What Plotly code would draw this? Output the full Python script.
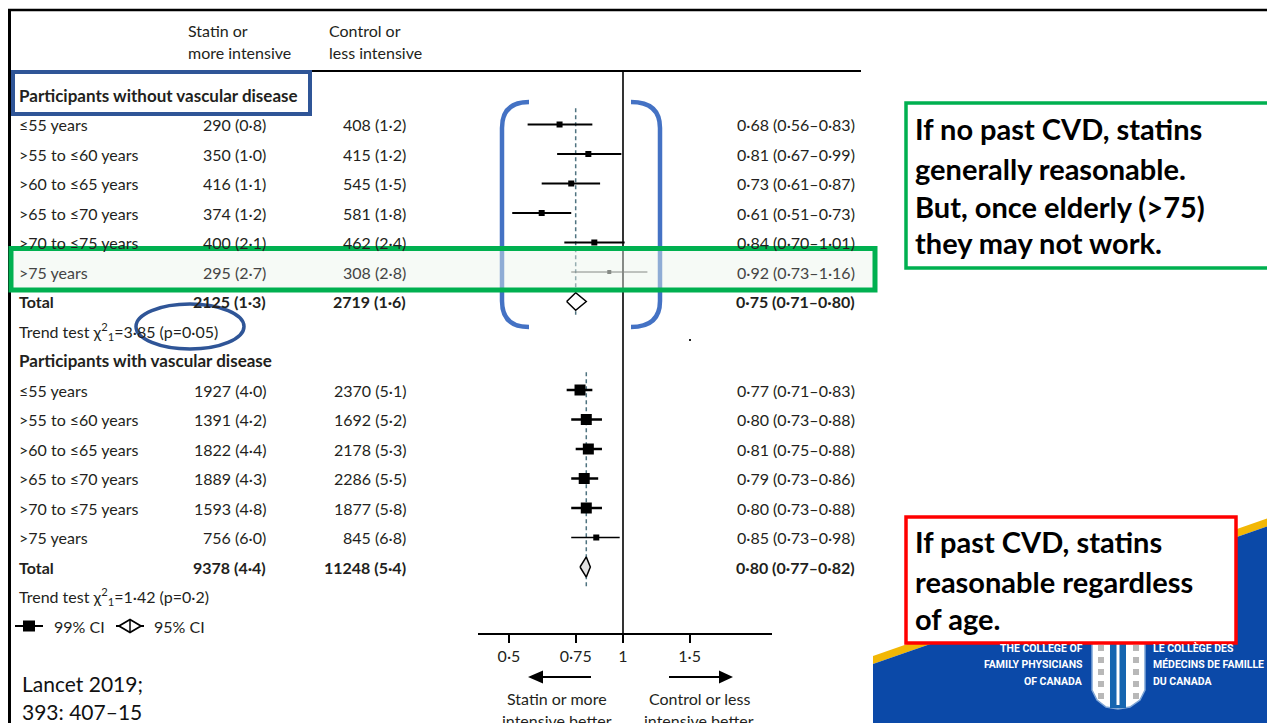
import plotly.graph_objects as go

# page body has an 8px default margin: design in page pixels, draw with an offset
OFF = 8
W, H = 1275, 723

# ---------------- data ----------------
age_groups = ["≤55 years", ">55 to ≤60 years", ">60 to ≤65 years",
              ">65 to ≤70 years", ">70 to ≤75 years", ">75 years"]

# Participants without vascular disease
statin_novd = ["290 (0·8)", "350 (1·0)", "416 (1·1)", "374 (1·2)", "400 (2·1)", "295 (2·7)"]
control_novd = ["408 (1·2)", "415 (1·2)", "545 (1·5)", "581 (1·8)", "462 (2·4)", "308 (2·8)"]
rr_novd = [0.68, 0.81, 0.73, 0.61, 0.84, 0.92]
lo_novd = [0.56, 0.67, 0.61, 0.51, 0.70, 0.73]
hi_novd = [0.83, 0.99, 0.87, 0.73, 1.01, 1.16]
total_novd_counts = ["2125 (1·3)", "2719 (1·6)"]
total_novd_rr = [0.75, 0.71, 0.80]
trend_novd = "Trend test χ<sup>2</sup><sub>1</sub>=3·85 (p=0·05)"

# Participants with vascular disease
statin_vd = ["1927 (4·0)", "1391 (4·2)", "1822 (4·4)", "1889 (4·3)", "1593 (4·8)", "756 (6·0)"]
control_vd = ["2370 (5·1)", "1692 (5·2)", "2178 (5·3)", "2286 (5·5)", "1877 (5·8)", "845 (6·8)"]
rr_vd = [0.77, 0.80, 0.81, 0.79, 0.80, 0.85]
lo_vd = [0.71, 0.73, 0.75, 0.73, 0.73, 0.73]
hi_vd = [0.83, 0.88, 0.88, 0.86, 0.88, 0.98]
total_vd_counts = ["9378 (4·4)", "11248 (5·4)"]
total_vd_rr = [0.80, 0.77, 0.82]
trend_vd = "Trend test χ<sup>2</sup><sub>1</sub>=1·42 (p=0·2)"

tick_vals = [0.5, 0.75, 1, 1.5]
tick_text = ["0·5", "0·75", "1", "1·5"]

# ---------------- layout helpers ----------------
FONT = "Lato"
TXT = "#231f20"
FS = 16
ROW0 = 95.0      # page pixel y of row index 0
ROWH = 29.5      # pixel height of a row
AX_Y = 633.0     # page pixel y of x-axis line


def fx(x):
    return (x - OFF) / W


def fy(y):
    return 1 - (y - OFF) / H


def row_of(ypix):
    return (ypix - ROW0) / ROWH


def fmt(v):
    return f"{v:.2f}".replace(".", "·")


def ci_text(r, l, h):
    return f"{fmt(r)} ({fmt(l)}–{fmt(h)})"


annotations = []
shapes = []


def txt(x, row, s, anchor="left", size=FS, bold=False, color=TXT, font=FONT):
    if bold:
        s = f"<b>{s}</b>"
    annotations.append(dict(x=fx(x), y=row, xref="paper", yref="y", text=s,
                            xanchor=anchor, yanchor="middle", showarrow=False,
                            font=dict(family=font, size=size, color=color)))


def ptxt(x, y, s, anchor="left", size=FS, bold=False, color=TXT, font=FONT):
    if bold:
        s = f"<b>{s}</b>"
    annotations.append(dict(x=fx(x), y=fy(y), xref="paper", yref="paper", text=s,
                            xanchor=anchor, yanchor="middle", showarrow=False,
                            font=dict(family=font, size=size, color=color)))


def pline(x0, y0, x1, y1, color="black", width=2, dash="solid"):
    shapes.append(dict(type="line", xref="paper", yref="paper",
                       x0=fx(x0), y0=fy(y0), x1=fx(x1), y1=fy(y1),
                       line=dict(color=color, width=width, dash=dash)))


def ppath(points, color="black", width=0, fill=None):
    d = "M " + " L ".join(f"{fx(x):.5f},{fy(y):.5f}" for x, y in points) + " Z"
    shapes.append(dict(type="path", xref="paper", yref="paper", path=d,
                       fillcolor=fill if fill else "rgba(0,0,0,0)",
                       line=dict(color=color, width=width)))


def prect(x0, y0, x1, y1, color, width, fill="rgba(0,0,0,0)", layer="above"):
    shapes.append(dict(type="rect", xref="paper", yref="paper",
                       x0=fx(x0), y0=fy(y0), x1=fx(x1), y1=fy(y1),
                       line=dict(color=color, width=width), fillcolor=fill, layer=layer))


# ---------------- figure & traces ----------------
fig = go.Figure()

rows_novd = list(range(1, 7))
rows_vd = list(range(10, 16))
row_total_novd, row_trend_novd, row_head_vd = 7, 8, 9
row_total_vd, row_trend_vd, row_legend = 16, 17, 18


def ci_trace(est, lo, hi, rows, msize, thick, color="black"):
    fig.add_trace(go.Scatter(
        x=est, y=rows, mode="markers",
        marker=dict(symbol="square", size=msize, color=color, line=dict(width=0)),
        error_x=dict(type="data", symmetric=False,
                     array=[h - e for e, h in zip(est, hi)],
                     arrayminus=[e - l for e, l in zip(est, lo)],
                     width=0, thickness=thick, color=color),
        showlegend=False, hoverinfo="skip"))


# reference line at 1
fig.add_trace(go.Scatter(x=[1, 1], y=[row_of(71), row_of(AX_Y)], mode="lines",
                         line=dict(color="black", width=1.6), showlegend=False,
                         hoverinfo="skip"))

# dashed overall lines
fig.add_trace(go.Scatter(x=[total_novd_rr[0]] * 2, y=[0.45, 7.45], mode="lines",
                         line=dict(color="#4f7380", width=1.5, dash="4px,3px"),
                         showlegend=False, hoverinfo="skip"))
fig.add_trace(go.Scatter(x=[total_vd_rr[0]] * 2, y=[9.4, 16.7], mode="lines",
                         line=dict(color="#4f7380", width=1.5, dash="4px,3px"),
                         showlegend=False, hoverinfo="skip"))

# CI bars
ci_trace(rr_novd[:5], lo_novd[:5], hi_novd[:5], rows_novd[:5], 6, 2)
ci_trace(rr_novd[5:], lo_novd[5:], hi_novd[5:], rows_novd[5:], 4, 1, "#333333")
ci_trace(rr_vd[:5], lo_vd[:5], hi_vd[:5], rows_vd[:5], 11, 2.5)
ci_trace(rr_vd[5:], lo_vd[5:], hi_vd[5:], rows_vd[5:], 6, 1.5)


def diamond(tot, row, half, fill):
    e, l, h = tot
    fig.add_trace(go.Scatter(x=[l, e, h, e, l], y=[row, row - half, row, row + half, row],
                             mode="lines", fill="toself", fillcolor=fill,
                             line=dict(color="black", width=1.5),
                             showlegend=False, hoverinfo="skip"))


diamond(total_novd_rr, row_total_novd, 0.3, "white")
diamond(total_vd_rr, row_total_vd, 0.34, "#e2e2e2")

# ---------------- table text ----------------
X_LAB, X_STAT, X_CTRL, X_RR = 17, 268, 408, 857

ptxt(186, 30, "Statin or")
ptxt(186, 52, "more intensive")
ptxt(327, 30, "Control or")
ptxt(327, 52, "less intensive")

txt(X_LAB, 0, "Participants without vascular disease", bold=True, size=17)
for i, r in enumerate(rows_novd):
    col = "#444444" if i == 5 else TXT
    txt(X_LAB, r, age_groups[i], color=col)
    txt(X_STAT, r, statin_novd[i], anchor="right", color=col)
    txt(X_CTRL, r, control_novd[i], anchor="right", color=col)
    txt(X_RR, r, ci_text(rr_novd[i], lo_novd[i], hi_novd[i]), anchor="right", color=col)
txt(X_LAB, row_total_novd, "Total", bold=True)
txt(X_STAT, row_total_novd, total_novd_counts[0], anchor="right", bold=True)
txt(X_CTRL, row_total_novd, total_novd_counts[1], anchor="right", bold=True)
txt(X_RR, row_total_novd, ci_text(*total_novd_rr), anchor="right", bold=True)
txt(X_LAB, row_trend_novd, trend_novd)

txt(X_LAB, row_head_vd, "Participants with vascular disease", bold=True, size=17)
for i, r in enumerate(rows_vd):
    txt(X_LAB, r, age_groups[i])
    txt(X_STAT, r, statin_vd[i], anchor="right")
    txt(X_CTRL, r, control_vd[i], anchor="right")
    txt(X_RR, r, ci_text(rr_vd[i], lo_vd[i], hi_vd[i]), anchor="right")
txt(X_LAB, row_total_vd, "Total", bold=True)
txt(X_STAT, row_total_vd, total_vd_counts[0], anchor="right", bold=True)
txt(X_CTRL, row_total_vd, total_vd_counts[1], anchor="right", bold=True)
txt(X_RR, row_total_vd, ci_text(*total_vd_rr), anchor="right", bold=True)
txt(X_LAB, row_trend_vd, trend_vd)

# legend row
ly = ROW0 + ROWH * row_legend
pline(15, ly, 43, ly, width=2)
prect(23, ly - 5.5, 35, ly + 5.5, "black", 0, fill="black")
txt(52, row_legend, "99% CI")
pline(116, ly, 144, ly, width=2)
ppath([(119, ly), (130, ly - 6.5), (141, ly), (130, ly + 6.5)], color="black", width=1.8, fill="white")
pline(130, ly - 6.5, 130, ly + 6.5, width=1.5)
txt(152, row_legend, "95% CI")

# ---------------- frame lines ----------------
pline(8, 10, 1283, 10, width=2.5)
pline(9.5, 10, 9.5, 731, width=3)
pline(9, 71, 861, 71, width=2)
prect(689, 339, 691, 341, "rgba(0,0,0,0)", 0, fill="#222")

# direction arrows under axis
ay = 677
pline(542, ay, 591, ay, width=2)
ppath([(528, ay), (543, ay - 6.5), (543, ay + 6.5)], fill="black")
pline(669, ay, 720, ay, width=2)
ppath([(733, ay), (719, ay - 6.5), (719, ay + 6.5)], fill="black")
ptxt(557, 698, "Statin or more", anchor="center")
ptxt(557, 720, "intensive better", anchor="center")
ptxt(699, 698, "Control or less", anchor="center")
ptxt(699, 720, "intensive better", anchor="center")

# citation
ptxt(20, 683, "Lancet 2019;", size=21, color="#111")
ptxt(20, 711, "393: 407–15", size=21, color="#111")

# ---------------- highlight annotations ----------------
BR = "#4472C4"


def bracket(xe, xo, ytop, ybot):
    r = 26
    d = (f"M {fx(xe):.5f},{fy(ytop):.5f} "
         f"Q {fx(xo):.5f},{fy(ytop):.5f} {fx(xo):.5f},{fy(ytop + r):.5f} "
         f"L {fx(xo):.5f},{fy(ybot - r):.5f} "
         f"Q {fx(xo):.5f},{fy(ybot):.5f} {fx(xe):.5f},{fy(ybot):.5f}")
    shapes.append(dict(type="path", xref="paper", yref="paper", path=d,
                       line=dict(color=BR, width=4.5)))


bracket(529, 502, 102, 327)
bracket(631, 660, 102, 327)

# blue box around first heading
prect(13, 72, 310, 114, "#2F5597", 4)

# green highlight band
prect(11, 248.5, 875, 290, "#00B050", 5, fill="rgba(236,243,236,0.45)")

# ellipse around p-value
shapes.append(dict(type="circle", xref="paper", yref="paper",
                   x0=fx(136), x1=fx(244), y0=fy(304), y1=fy(349),
                   line=dict(color="#2F5597", width=3.5)))

# ---------------- logo corner ----------------
ppath([(873, 656), (1283, 513), (1283, 521), (873, 664)], fill="#F2B705")
ppath([(873, 664), (1283, 521), (1283, 731), (873, 731)], fill="#0B49A8")
shield = [(1092, 640), (1145, 640), (1145, 690), (1140, 700), (1130, 707), (1118, 709),
          (1106, 707), (1097, 700), (1092, 690)]
ppath(shield, color="#7fa6d6", width=1.5, fill="white")
ppath([(1110, 640), (1126, 640), (1126, 708), (1110, 708)], fill="#1565b0")
pline(1118, 642, 1118, 705, color="white", width=3)
for yy in range(648, 700, 12):
    for xx in (1101, 1136):
        prect(xx - 3, yy - 3, xx + 3, yy + 3, "rgba(0,0,0,0)", 0, fill="#b8b8b8")
LOGO_F = "Roboto"
ptxt(1085, 648, "THE COLLEGE OF", anchor="right", size=10.5, bold=True, color="white", font=LOGO_F)
ptxt(1085, 664, "FAMILY PHYSICIANS", anchor="right", size=10.5, bold=True, color="white", font=LOGO_F)
ptxt(1085, 681, "OF CANADA", anchor="right", size=10.5, bold=True, color="white", font=LOGO_F)
ptxt(1151, 648, "LE COLLÈGE DES", anchor="left", size=10.5, bold=True, color="white", font=LOGO_F)
ptxt(1151, 664, "MÉDECINS DE FAMILLE", anchor="left", size=10.5, bold=True, color="white", font=LOGO_F)
ptxt(1151, 681, "DU CANADA", anchor="left", size=10.5, bold=True, color="white", font=LOGO_F)

# callout boxes
prect(906, 103, 1269, 268, "#00B050", 3.5, fill="white")
for yy, line in zip([129, 168, 206, 243],
                    ["If no past CVD, statins", "generally reasonable.",
                     "But, once elderly (>75)", "they may not work."]):
    ptxt(913, yy, line, size=29, bold=True, color="black")

prect(906, 517, 1236, 643, "#FF0000", 3.5, fill="white")
for yy, line in zip([541, 581, 618],
                    ["If past CVD, statins", "reasonable regardless", "of age."]):
    ptxt(913, yy, line, size=29, bold=True, color="black")

# ---------------- axes ----------------
X_LEFT, X_RIGHT, X_ONE = 478, 772, 623
PX_PER_DEC = 164.5 * 2.302585
xr = [(X_LEFT - X_ONE) / PX_PER_DEC, (X_RIGHT - X_ONE) / PX_PER_DEC]

fig.update_layout(
    width=W, height=H, margin=dict(l=0, r=0, t=0, b=0),
    paper_bgcolor="white", plot_bgcolor="rgba(0,0,0,0)",
    showlegend=False,
    xaxis=dict(type="log", domain=[fx(X_LEFT), fx(X_RIGHT)], range=xr,
               showgrid=False, zeroline=False, showline=True, linecolor="black",
               linewidth=2, ticks="outside", ticklen=8, tickwidth=1.5, tickcolor="black",
               tickvals=tick_vals, ticktext=tick_text,
               tickfont=dict(family=FONT, size=FS, color=TXT), fixedrange=True),
    yaxis=dict(domain=[fy(AX_Y), 1], range=[row_of(AX_Y), row_of(OFF)],
               visible=False, fixedrange=True),
    annotations=annotations, shapes=shapes,
)

fig.write_html("out.html")
